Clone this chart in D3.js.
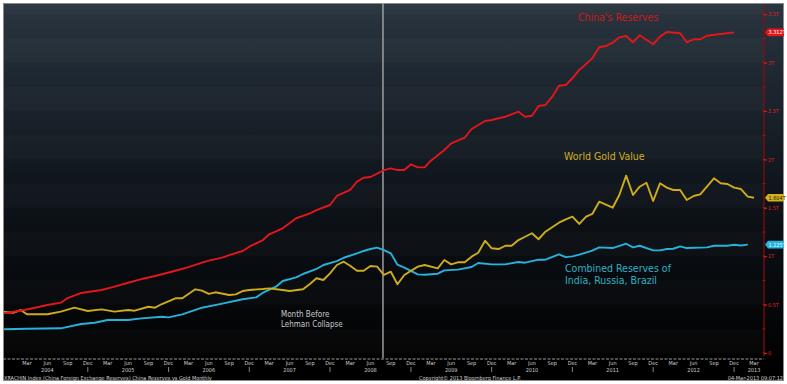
<!DOCTYPE html>
<html><head><meta charset="utf-8">
<script src="https://cdn.jsdelivr.net/npm/d3@7/dist/d3.min.js"></script>
<style>
body{margin:0;background:#fff;}
svg{display:block;}
</style>
</head><body>
<svg id="chart" width="787" height="384"></svg>
<script>
// ---------- DATA (trillions USD, monthly) ----------
const chinaMonths = ["2003-11","2003-12","2004-02","2004-04","2004-06","2004-08","2004-09","2004-11","2005-02","2005-04","2005-06","2005-08","2005-10","2006-01","2006-03","2006-05","2006-06","2006-08","2006-09","2006-11","2006-12","2007-02","2007-03","2007-05","2007-06","2007-07","2007-09","2007-10","2007-12","2008-01","2008-03","2008-04","2008-05","2008-06","2008-08","2008-09","2008-10","2008-11","2008-12","2009-01","2009-02","2009-03","2009-05","2009-06","2009-08","2009-09","2009-11","2009-12","2010-01","2010-02","2010-04","2010-05","2010-06","2010-07","2010-08","2010-09","2010-10","2010-11","2010-12","2011-01","2011-03","2011-04","2011-05","2011-06","2011-07","2011-08","2011-09","2011-10","2011-12","2012-01","2012-02","2012-04","2012-05","2012-06","2012-07","2012-08","2012-10","2012-12"];
const chinaValues = [0.410,0.416,0.437,0.465,0.496,0.520,0.568,0.620,0.651,0.685,0.726,0.764,0.795,0.850,0.888,0.933,0.954,0.985,1.012,1.054,1.098,1.167,1.226,1.288,1.340,1.392,1.443,1.477,1.529,1.622,1.684,1.770,1.811,1.818,1.890,1.908,1.890,1.890,1.949,1.918,1.918,1.987,2.097,2.166,2.224,2.314,2.397,2.407,2.425,2.441,2.493,2.441,2.451,2.552,2.562,2.648,2.761,2.769,2.838,2.924,3.044,3.158,3.171,3.206,3.261,3.275,3.210,3.282,3.189,3.268,3.316,3.303,3.210,3.241,3.241,3.278,3.295,3.312];

const goldMonths = ["2003-11","2004-01","2004-02","2004-03","2004-06","2004-08","2004-10","2004-12","2005-02","2005-04","2005-06","2005-07","2005-09","2005-10","2005-11","2006-01","2006-02","2006-04","2006-05","2006-06","2006-07","2006-09","2006-10","2006-11","2006-12","2007-02","2007-03","2007-05","2007-06","2007-08","2007-09","2007-10","2007-11","2007-12","2008-01","2008-02","2008-03","2008-04","2008-05","2008-06","2008-07","2008-08","2008-09","2008-10","2008-11","2009-01","2009-02","2009-04","2009-05","2009-06","2009-07","2009-08","2009-09","2009-10","2009-11","2009-12","2010-01","2010-02","2010-03","2010-04","2010-05","2010-06","2010-07","2010-08","2010-10","2010-11","2010-12","2011-01","2011-02","2011-03","2011-04","2011-06","2011-07","2011-08","2011-09","2011-10","2011-11","2011-12","2012-01","2012-02","2012-03","2012-04","2012-05","2012-06","2012-07","2012-09","2012-10","2012-11","2012-12","2013-01","2013-02","2013-03"];
const goldValues = [0.427,0.416,0.444,0.400,0.400,0.427,0.468,0.434,0.451,0.427,0.444,0.437,0.478,0.468,0.506,0.565,0.565,0.658,0.644,0.610,0.627,0.599,0.606,0.640,0.651,0.661,0.668,0.651,0.640,0.658,0.713,0.772,0.754,0.823,0.909,0.943,0.902,0.850,0.850,0.899,0.892,0.806,0.840,0.710,0.806,0.892,0.909,0.875,0.961,0.916,0.937,0.937,0.995,1.036,1.160,1.082,1.074,1.108,1.108,1.167,1.201,1.237,1.175,1.253,1.346,1.381,1.408,1.333,1.408,1.436,1.563,1.501,1.632,1.832,1.632,1.718,1.759,1.570,1.753,1.708,1.684,1.684,1.581,1.622,1.639,1.805,1.753,1.746,1.708,1.694,1.615,1.604];

const bricMonths = ["2003-11","2004-03","2004-08","2004-11","2005-01","2005-03","2005-06","2005-08","2005-11","2005-12","2006-02","2006-05","2006-08","2006-11","2007-01","2007-02","2007-04","2007-05","2007-07","2007-08","2007-10","2007-11","2008-01","2008-02","2008-04","2008-05","2008-06","2008-07","2008-08","2008-09","2008-10","2008-11","2009-01","2009-02","2009-04","2009-05","2009-07","2009-09","2009-10","2009-12","2010-02","2010-04","2010-05","2010-07","2010-08","2010-10","2010-11","2010-12","2011-01","2011-03","2011-04","2011-06","2011-08","2011-09","2011-10","2011-12","2012-01","2012-02","2012-03","2012-04","2012-05","2012-08","2012-09","2012-11","2012-12","2013-01","2013-02"];
const bricValues = [0.245,0.250,0.255,0.300,0.313,0.341,0.341,0.358,0.375,0.368,0.399,0.468,0.510,0.555,0.575,0.623,0.685,0.744,0.782,0.816,0.868,0.909,0.950,0.984,1.030,1.054,1.074,1.088,1.062,1.030,0.912,0.881,0.812,0.809,0.819,0.854,0.861,0.888,0.930,0.916,0.916,0.940,0.933,0.964,0.964,1.019,0.990,0.998,1.016,1.057,1.091,1.084,1.129,1.091,1.108,1.060,1.060,1.074,1.077,1.102,1.084,1.091,1.108,1.108,1.118,1.111,1.120];

const lastLabels = ["3.312T","1.604T","1.125T"];
const yTickValues = [0,0.5,1,1.5,2,2.5,3,3.5];
const yTickLabels = ["0","0.5T","1T","1.5T","2T","2.5T","3T","3.5T"];
const lehmanMonth = "2008-08";
const seriesNames = ["China's Reserves","World Gold Value",["Combined Reserves of","India, Russia, Brazil"]];
const lehmanText = ["Month Before","Lehman Collapse"];
const footerLeft = "XRACHIN Index (China Foreign Exchange Reserves) China Reserves vs Gold  Monthly";
const footerMid = "Copyright\u00a9 2013 Bloomberg Finance L.P.";
const footerRight = "04-Mar-2013 09:07:12";

// ---------- SETUP ----------
const parseM = d3.timeParse("%Y-%m");
const svg = d3.select("#chart");
const W = 787, H = 384;
const plotL = 3, plotR = 764, plotT = 3, plotB = 358;
const smallFont = "'Liberation Sans Narrow','DejaVu Sans Condensed',sans-serif";

const x = d3.scaleTime()
  .domain([new Date(2004,2,1), new Date(2013,2,1)])
  .range([27, 754]);
const y = d3.scaleLinear().domain([0,3.5]).range([353, 14.2]);

const defs = svg.append("defs");
const grad = defs.append("linearGradient").attr("id","bg").attr("x1",0).attr("y1",0).attr("x2",0).attr("y2",1);
[[0,"#2a3540"],[0.25,"#1c252e"],[0.5,"#10161d"],[0.75,"#080b0f"],[1,"#020202"]]
  .forEach(([o,c])=>grad.append("stop").attr("offset",o).attr("stop-color",c));
defs.append("clipPath").attr("id","clip").append("rect")
  .attr("x",plotL+1).attr("y",plotT).attr("width",plotR-plotL-1).attr("height",plotB-plotT);

// frame
svg.append("rect").attr("x",0).attr("y",0).attr("width",W).attr("height",H).attr("fill","#fff");
svg.append("rect").attr("x",plotL).attr("y",plotT).attr("width",784-plotL).attr("height",381-plotT).attr("fill","#000");
svg.append("rect").attr("x",plotL).attr("y",plotT).attr("width",784-plotL).attr("height",plotB-plotT).attr("fill","url(#bg)");
// subtle bands
const bandVals = d3.range(0,3.75,0.25);
svg.append("g").selectAll("rect").data(bandVals.filter((d,i)=>i%2===0)).join("rect")
  .attr("x",plotL).attr("width",plotR-plotL)
  .attr("y",d=>y(d+0.25)).attr("height",d=>y(d)-y(d+0.25))
  .attr("fill","#ffffff").attr("opacity",0.018);
svg.append("rect").attr("x",plotL+0.5).attr("y",plotT+0.5).attr("width",784-plotL-1).attr("height",381-plotT-1)
  .attr("fill","none").attr("stroke","#8a8a8a").attr("stroke-width",1);

// x axis (quarter months, then years)
const qDates = [];
for (let d = new Date(2004,2,1); d <= new Date(2013,2,1); d = new Date(d.getFullYear(), d.getMonth()+3, 1)) qDates.push(d);
svg.append("line").attr("x1",plotL).attr("x2",plotR).attr("y1",plotB+1).attr("y2",plotB+1)
  .attr("stroke","#9a9a9a").attr("stroke-width",1).attr("stroke-dasharray","3,1.5");
svg.append("g").selectAll("text").data(qDates).join("text")
  .attr("x",d=>x(d)).attr("y",364.8).attr("text-anchor","middle")
  .attr("fill","#d0d0d0").attr("font-family",smallFont).attr("font-size","5.5px")
  .text(d3.timeFormat("%b"));
const yearDates = d3.range(2004,2013).map(yy=>new Date(yy,5,1)).concat([new Date(2013,2,1)]);
svg.append("g").selectAll("text").data(yearDates).join("text")
  .attr("x",d=>x(d)).attr("y",371.8).attr("text-anchor","middle")
  .attr("fill","#d0d0d0").attr("font-family",smallFont).attr("font-size","5.5px")
  .text(d3.timeFormat("%Y"));
const decDates = qDates.filter(d=>d.getMonth()===11);
svg.append("g").selectAll("line").data(decDates).join("line")
  .attr("x1",d=>x(d)).attr("x2",d=>x(d)).attr("y1",367).attr("y2",372)
  .attr("stroke","#bbb").attr("stroke-width",0.7);

// right axis
svg.append("line").attr("x1",plotR).attr("x2",plotR).attr("y1",plotT+2).attr("y2",plotB-2)
  .attr("stroke","#8c0c0c").attr("stroke-width",1.2);
svg.append("g").selectAll("line").data(d3.range(0,3.75,0.25)).join("line")
  .attr("x1",plotR-1.5).attr("x2",plotR+1.5).attr("y1",d=>y(d)).attr("y2",d=>y(d))
  .attr("stroke","#c01010").attr("stroke-width",0.8);
const yAxis = d3.axisRight(y).tickValues(yTickValues).tickFormat((d,i)=>yTickLabels[i]).tickSize(3).tickPadding(1);
const gy = svg.append("g").attr("transform",`translate(${plotR},0)`).call(yAxis);
gy.select(".domain").remove();
gy.selectAll("line").attr("stroke","#e01818").attr("stroke-width",1.2);
gy.selectAll("text").attr("fill","#e02020").attr("font-family",smallFont).attr("font-size","5.5px");

// series
const series = [
  {months: chinaMonths, values: chinaValues, color:"#e3161b"},
  {months: goldMonths, values: goldValues, color:"#ceac1c"},
  {months: bricMonths, values: bricValues, color:"#27b2dc"}
];
const line = d3.line().x(d=>x(d[0])).y(d=>y(d[1]));
const gl = svg.append("g").attr("clip-path","url(#clip)");
// Lehman line
gl.append("line").attr("x1",x(parseM(lehmanMonth))-1).attr("x2",x(parseM(lehmanMonth))-1)
  .attr("y1",plotT).attr("y2",plotB).attr("stroke","#a8a8a8").attr("stroke-width",1.4);
series.slice().reverse().forEach(s=>{
  const pts = s.months.map((m,i)=>[parseM(m), s.values[i]]);
  gl.append("path").datum(pts).attr("d",line).attr("fill","none")
    .attr("stroke",s.color).attr("stroke-width",1.9).attr("stroke-linejoin","round");
});

// last value labels
const boxFill = ["#e3161b","#d3b21f","#27b2dc"];
const boxText = ["#ffffff","#2a2000","#e8f8ff"];
series.forEach((s,i)=>{
  const v = s.values[s.values.length-1];
  const yy = y(v);
  svg.append("path")
    .attr("d",`M${plotR+1},${yy} L${plotR+4},${yy-3.8} L784,${yy-3.8} L784,${yy+3.8} L${plotR+4},${yy+3.8} Z`)
    .attr("fill",boxFill[i]);
  svg.append("text").attr("x",plotR+4.5).attr("y",yy+2).attr("fill",boxText[i])
    .attr("font-family",smallFont).attr("font-size","5.5px")
    .text(lastLabels[i]);
});

// annotations
const annFont = "'DejaVu Sans Condensed','DejaVu Sans',sans-serif";
svg.append("text").attr("x",578).attr("y",21).attr("fill","#d01a1a")
  .attr("font-family",annFont).attr("font-stretch","condensed").attr("font-size","10.5px").text(seriesNames[0]);
svg.append("text").attr("x",564).attr("y",160).attr("fill","#cfae24")
  .attr("font-family",annFont).attr("font-stretch","condensed").attr("font-size","10.5px").text(seriesNames[1]);
svg.append("text").attr("fill","#2fb0c4").attr("font-family",annFont).attr("font-stretch","condensed").attr("font-size","10.5px")
  .selectAll("tspan").data(seriesNames[2]).join("tspan")
  .attr("x",565).attr("y",(d,i)=>271.5+i*12).text(d=>d);
svg.append("text").attr("fill","#c8c8c8").attr("font-family",annFont).attr("font-stretch","condensed").attr("font-size","8px")
  .selectAll("tspan").data(lehmanText).join("tspan")
  .attr("x",281).attr("y",(d,i)=>317+i*10).text(d=>d);

// footer
svg.append("text").attr("x",4).attr("y",379.5).attr("fill","#d0d0d0").attr("font-family",smallFont).attr("font-size","5.5px").text(footerLeft);
svg.append("text").attr("x",470).attr("y",379.5).attr("text-anchor","middle").attr("fill","#d0d0d0").attr("font-family",smallFont).attr("font-size","5.5px").text(footerMid);
svg.append("text").attr("x",783).attr("y",379.5).attr("text-anchor","end").attr("fill","#d0d0d0").attr("font-family",smallFont).attr("font-size","5.5px").text(footerRight);
</script>
</body></html>
